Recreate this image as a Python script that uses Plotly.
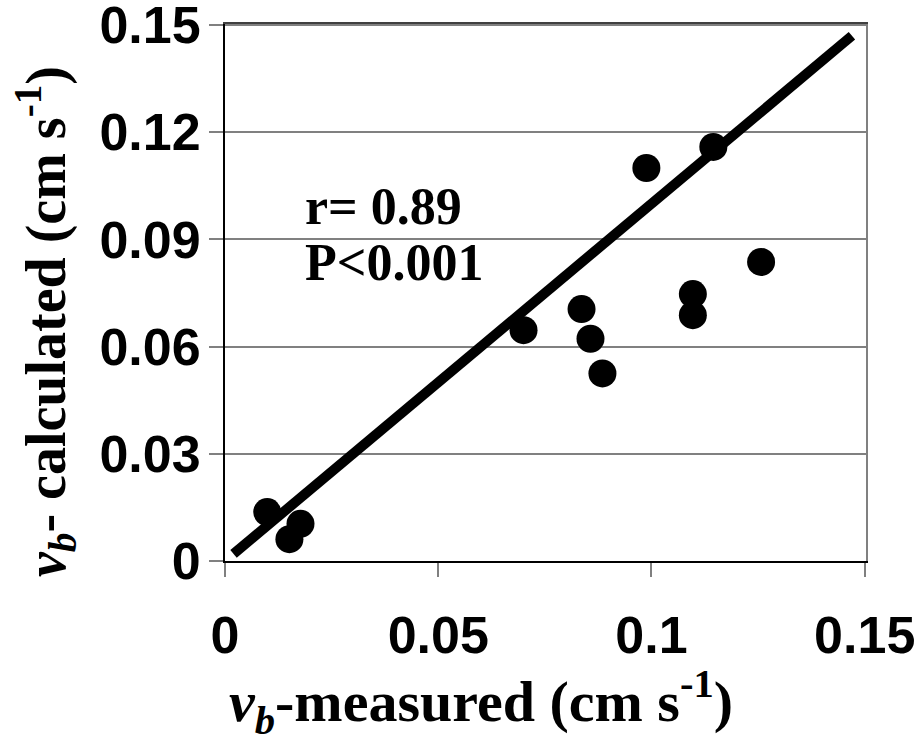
import plotly.graph_objects as go

# Data
vb_measured = [0.0099, 0.0151, 0.0177, 0.0700, 0.0836, 0.0857, 0.0885, 0.0988, 0.1145, 0.1097, 0.1097, 0.1257]
vb_calculated = [0.0137, 0.0061, 0.0104, 0.0646, 0.0705, 0.0622, 0.0525, 0.1100, 0.1159, 0.0747, 0.0688, 0.0837]
fit_x = [0.002, 0.147]
fit_y = [0.002, 0.147]

x_ticks = [0, 0.05, 0.1, 0.15]
x_ticklabels = ["0", "0.05", "0.1", "0.15"]
y_ticks = [0, 0.03, 0.06, 0.09, 0.12, 0.15]
y_ticklabels = ["0", "0.03", "0.06", "0.09", "0.12", "0.15"]

stats_lines = ["r= 0.89", "P&lt;0.001"]

fig = go.Figure()
fig.add_trace(go.Scatter(x=fit_x, y=fit_y, mode="lines",
                         line=dict(color="black", width=10), showlegend=False, hoverinfo="skip"))
fig.add_trace(go.Scatter(x=vb_measured, y=vb_calculated, mode="markers",
                         marker=dict(color="black", size=28, line=dict(width=0)), showlegend=False))

rng = [0, 0.1503]
tickfont = dict(family="Liberation Sans, Arial", size=52, color="black", weight="bold")
fig.update_layout(
    width=917, height=745,
    margin=dict(l=225, r=51, t=24, b=184, autoexpand=False),
    paper_bgcolor="white", plot_bgcolor="white",
    xaxis=dict(range=rng, tickvals=x_ticks, ticktext=x_ticklabels, automargin=False,
               showgrid=False, zeroline=False, showline=True, linecolor="black", linewidth=2,
               ticks="outside", ticklen=14, tickcolor="#808080", tickwidth=2,
               tickfont=tickfont, ticklabelstandoff=14, ticklabeloverflow="allow"),
    yaxis=dict(range=rng, tickvals=y_ticks, ticktext=y_ticklabels, automargin=False,
               showgrid=True, gridcolor="#808080", gridwidth=2, zeroline=False,
               showline=True, linecolor="black", linewidth=2,
               ticks="outside", ticklen=14, tickcolor="#808080", tickwidth=2,
               tickfont=tickfont, ticklabelstandoff=-2, ticklabeloverflow="allow"),
    xaxis2=dict(overlaying="x", side="top", range=rng, showline=True, linecolor="#404040",
                linewidth=2, showgrid=False, zeroline=False, showticklabels=False, ticks="",
                automargin=False),
    yaxis2=dict(overlaying="y", side="right", range=rng, showline=True, linecolor="#808080",
                linewidth=2, showgrid=False, zeroline=False, showticklabels=False, ticks="",
                automargin=False),
)
# invisible helper trace so the border axes are drawn
fig.add_trace(go.Scatter(x=[None], y=[None], xaxis="x2", yaxis="y2", showlegend=False,
                         hoverinfo="skip", mode="markers"))

titlefont = dict(family="Liberation Serif, Times New Roman", size=56, color="black", weight="bold")
xtitlefont = dict(titlefont, size=58)
fig.add_annotation(text="<i>v</i><sub><i>b</i></sub>-measured (cm s<sup>-1</sup>)",
                   xref="paper", yref="paper", x=(481 - 225) / 641, y=-(702 - 561) / 537,
                   xanchor="center", yanchor="middle", showarrow=False, font=xtitlefont)
fig.add_annotation(text="<i>v</i><sub><i>b</i></sub>- calculated (cm s<sup>-1</sup>)",
                   xref="paper", yref="paper", x=-(225 - 45) / 641, y=(561 - 322) / 537,
                   xanchor="center", yanchor="middle", textangle=-90, showarrow=False, font=titlefont)

statfont = dict(family="Liberation Serif, Times New Roman", size=52, color="black", weight="bold")
fig.add_annotation(text=stats_lines[0], x=0.0184, y=0.0992, xanchor="left", yanchor="middle",
                   showarrow=False, font=statfont)
fig.add_annotation(text=stats_lines[1], x=0.0184, y=0.0836, xanchor="left", yanchor="middle",
                   showarrow=False, font=statfont)

fig.write_html("out.html")
